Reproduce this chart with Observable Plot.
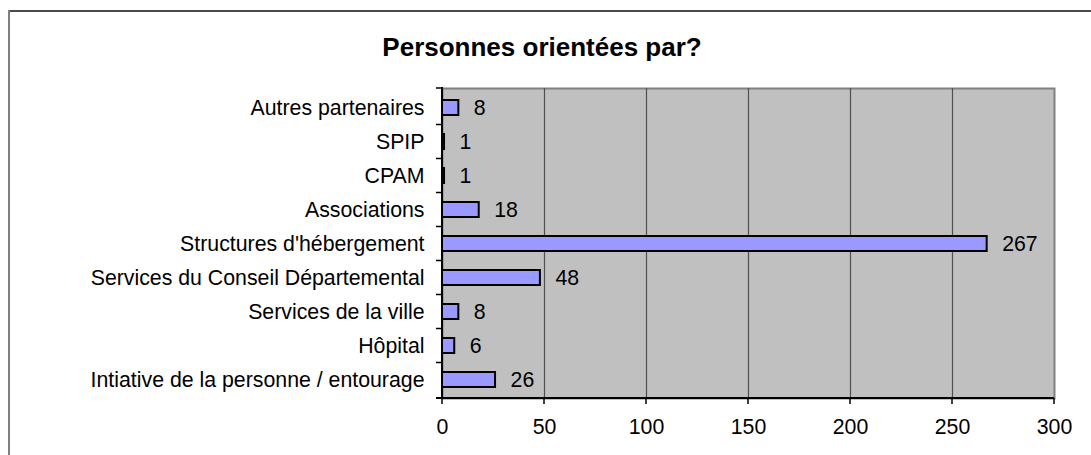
<!DOCTYPE html>
<html>
<head>
<meta charset="utf-8">
<script src="https://cdn.jsdelivr.net/npm/d3@7"></script>
<script src="https://cdn.jsdelivr.net/npm/@observablehq/plot@0.6"></script>
<style>
  html, body { margin: 0; padding: 0; background: white; }
  #wrap { position: relative; width: 1091px; height: 455px; overflow: hidden; font-family: "Liberation Sans", Arial, sans-serif; }
  #chart { position: absolute; left: 0; top: 0; }
  #title { position: absolute; left: 0; width: 1084px; top: 34px; text-align: center; font-weight: bold; font-size: 26px; line-height: 26px; color: #000; }
  #btop { position: absolute; left: 8px; right: 0; top: 10px; height: 2px; background: #4a4a4a; }
  #bleft { position: absolute; left: 8px; top: 10px; bottom: 0; width: 2px; background: #808080; }
</style>
</head>
<body>
<div id="wrap">
  <div id="chart"></div>
  <div id="btop"></div>
  <div id="bleft"></div>
  <div id="title">Personnes orientées par?</div>
</div>
<script>
const categories = [
  "Autres partenaires",
  "SPIP",
  "CPAM",
  "Associations",
  "Structures d'hébergement",
  "Services du Conseil Départemental",
  "Services de la ville",
  "Hôpital",
  "Intiative de la personne / entourage"
];
const values = [8, 1, 1, 18, 267, 48, 8, 6, 26];
const xTicks = [0, 50, 100, 150, 200, 250, 300];
const gridTicks = [50, 100, 150, 200, 250];

const data = categories.map((c, i) => ({cat: c, value: values[i]}));

function bandTicks(index, scales, vals, dims) {
  const y = scales.y, x = scales.x;
  const bw = y.bandwidth();
  const top = dims.marginTop, bottom = dims.height - dims.marginBottom;
  const right = dims.width - dims.marginRight;
  const bounds = [top];
  for (let i = 0; i < categories.length - 1; i++) {
    bounds.push((y(categories[i]) + bw + y(categories[i + 1])) / 2);
  }
  bounds.push(bottom);
  const g = d3.create("svg:g");
  const x0 = x(0);
  g.selectAll("line.t").data(bounds).join("line")
    .attr("x1", x0 - 6).attr("x2", x0).attr("y1", d => d).attr("y2", d => d)
    .attr("stroke", "black").attr("stroke-width", 1.5);
  g.append("line").attr("x1", x0).attr("x2", x0).attr("y1", top - 1).attr("y2", bottom + 1)
    .attr("stroke", "black").attr("stroke-width", 2);
  g.append("line").attr("x1", x0 - 6).attr("x2", right).attr("y1", bottom).attr("y2", bottom)
    .attr("stroke", "black").attr("stroke-width", 2);
  g.selectAll("line.xt").data(xTicks).join("line")
    .attr("x1", d => x(d)).attr("x2", d => x(d)).attr("y1", bottom).attr("y2", bottom + 6)
    .attr("stroke", "black").attr("stroke-width", 1.5);
  return g.node();
}

const FS = 21.3;
const chart = Plot.plot({
  width: 1091,
  height: 455,
  marginLeft: 442,
  marginRight: 37,
  marginTop: 88,
  marginBottom: 57,
  style: {fontFamily: "'Liberation Sans', Arial, sans-serif", fontSize: FS + "px", color: "black", background: "transparent"},
  x: {domain: [0, 300]},
  y: {domain: categories, paddingInner: 0.56, paddingOuter: 0.28},
  marks: [
    Plot.frame({fill: "#c0c0c0", stroke: "#808080", strokeWidth: 2}),
    Plot.gridX(gridTicks, {stroke: "#505050", strokeOpacity: 1, strokeWidth: 1.2}),
    Plot.barX(data, {x: "value", y: "cat", fill: "#9999ff", stroke: "black", strokeWidth: 2}),
    Plot.text(data, {x: "value", y: "cat", text: d => String(d.value), textAnchor: "start", dx: 15, fill: "black", fontSize: FS}),
    Plot.axisY({tickSize: 0, tickPadding: 18, label: null, fontSize: FS}),
    Plot.axisX({ticks: xTicks, tickSize: 0, tickPadding: 20, label: null, tickFormat: d => String(d), fontSize: FS}),
    bandTicks
  ]
});
document.getElementById("chart").appendChild(chart);
</script>
</body>
</html>
